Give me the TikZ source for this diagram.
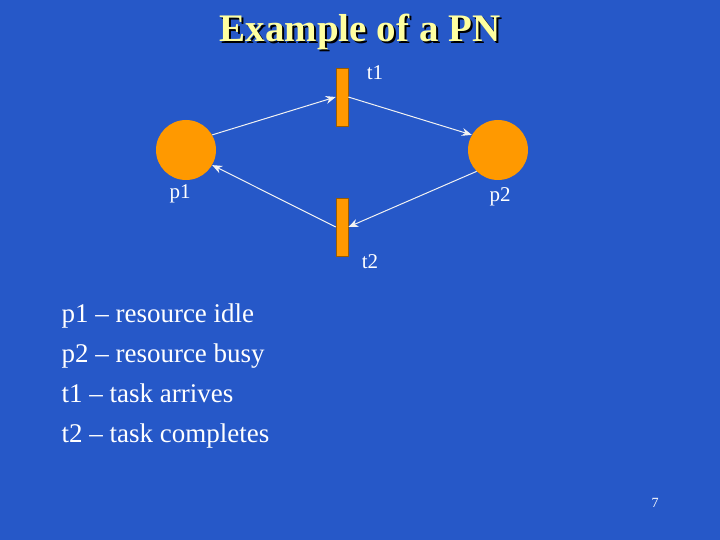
\documentclass[tikz,border=0pt]{standalone}
\usepackage{fontspec}
\setmainfont{Liberation Serif}
\usetikzlibrary{arrows.meta}
\definecolor{bg}{RGB}{38,88,200}
\definecolor{orng}{RGB}{255,153,0}
\definecolor{ttl}{RGB}{255,255,160}
\begin{document}
\begin{tikzpicture}[x=1pt,y=-1pt,
  place/.style={circle,fill=orng,minimum size=60pt,inner sep=0pt},
  trans/.style={rectangle,fill=orng,draw=orng!60!black,line width=0.6pt,minimum width=12pt,minimum height=58pt,inner sep=0pt},
  lbl/.style={font=\fontsize{21}{21}\selectfont,text=white},
  arc/.style={draw=white!90!gray,line width=1pt,-{Stealth[length=10pt,width=8pt]}}]
\fill[bg] (0,0) rectangle (720,540);
\useasboundingbox (0,0) rectangle (720,540);
\node[font=\bfseries\fontsize{39}{39}\selectfont,text=black] at (362,34) {Example of a PN};
\node[font=\bfseries\fontsize{39}{39}\selectfont,text=ttl] (title) at (360,32) {Example of a PN};
\node[place] (p1) at (186,150) {};
\node[place] (p2) at (498,150) {};
\node[trans] (t1) at (342,97) {};
\node[trans] (t2) at (342,227) {};
\node[lbl] (lt1) at (375,73) {t1};
\node[lbl] (lp1) at (180,194) {p1};
\node[lbl] (lp2) at (500,197) {p2};
\node[lbl] (lt2) at (370,262) {t2};
\draw[arc] (p1.30) -- (t1.west);
\draw[arc] (t1.east) -- (p2.150);
\draw[arc] (p2.225) -- (t2.east);
\draw[arc] (t2.west) -- (p1.-30);
\node[anchor=north west,align=left,text=white,font=\fontsize{27}{40}\selectfont] (list) at (58,300)
{p1 -- resource idle\\p2 -- resource busy\\t1 -- task arrives\\t2 -- task completes};
\node[text=white,font=\fontsize{14}{14}\selectfont] (pg) at (655,503) {7};
\end{tikzpicture}
\end{document}
